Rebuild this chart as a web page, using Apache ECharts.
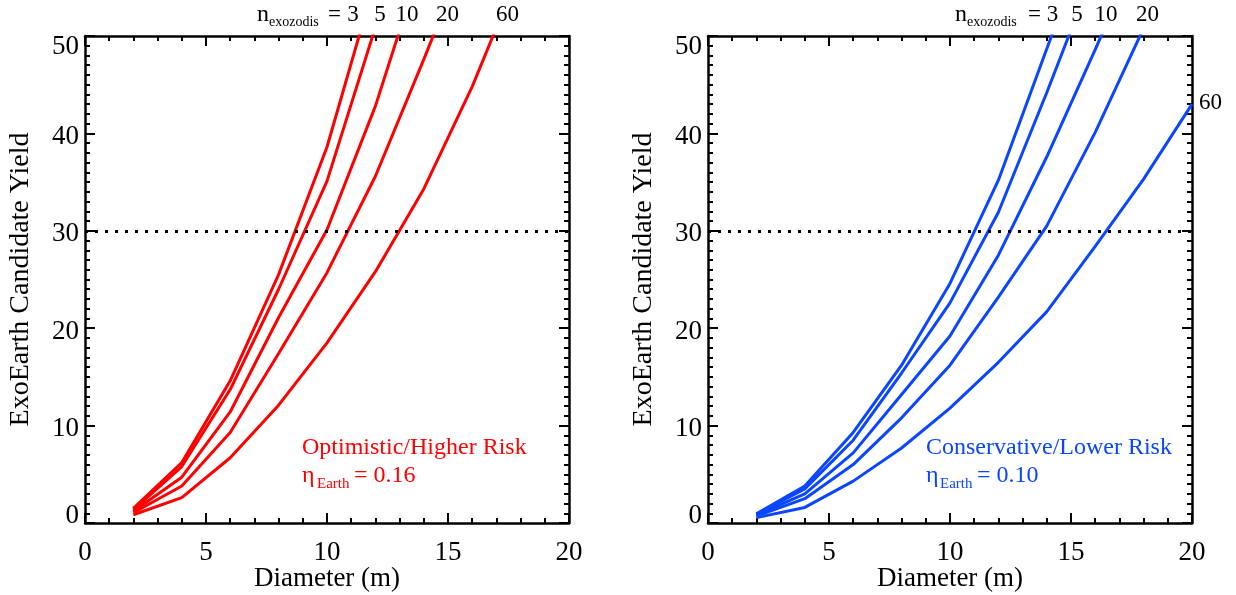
<!DOCTYPE html>
<html>
<head>
<meta charset="utf-8">
<script src="https://cdn.jsdelivr.net/npm/echarts@6/dist/echarts.min.js"></script>
<style>
html,body{margin:0;padding:0;background:#fff;}
#chart{width:1236px;height:595px;}
</style>
</head>
<body>
<div id="chart"></div>
<script>
// ---- data ----
const diameters = [2, 4, 6, 8, 10, 12, 14, 16, 18, 20];
const exozodiLevels = ['3', '5', '10', '20', '60'];

// Optimistic / Higher Risk (eta_Earth = 0.16)
const optN3  = [1.5, 6.2, 14.6, 25.5, 38.6, 55.8];
const optN5  = [1.35, 5.8, 13.7, 24.0, 35.1, 50.9];
const optN10 = [1.2, 4.7, 11.4, 21.1, 30.1, 42.8, 58.3];
const optN20 = [1.05, 3.8, 9.3, 17.4, 25.7, 35.6, 47.6, 60.0];
const optN60 = [0.85, 2.6, 6.7, 12.1, 18.5, 25.8, 34.3, 44.8, 56.9];

// Conservative / Lower Risk (eta_Earth = 0.10)
const conN3  = [0.95, 3.8, 9.3, 16.2, 24.6, 35.2, 48.7, 62.0];
const conN5  = [0.9, 3.5, 8.5, 15.4, 22.6, 31.9, 44.2, 57.0];
const conN10 = [0.8, 3.0, 7.2, 13.2, 19.2, 27.5, 37.6, 48.6, 60.0];
const conN20 = [0.7, 2.5, 6.0, 10.8, 16.2, 23.2, 30.5, 40.1, 50.8];
const conN60 = [0.55, 1.6, 4.3, 7.7, 11.8, 16.5, 21.7, 28.4, 35.3, 43.0];

const yieldGoal = 30;
const xTicks = [0, 5, 10, 15, 20];
const yTicks = [0, 10, 20, 30, 40, 50];

// ---- styling ----
const FONT = '"Liberation Serif", "DejaVu Serif", serif';
const RED = '#ff0000';
const BLUE = '#0a46ff';

const chart = echarts.init(document.getElementById('chart'), null, {renderer: 'canvas'});

function pairs(vals) { return vals.map((v, i) => [diameters[i], v]); }

const grids = [
  {left: 85, top: 36, width: 484, height: 487, outerBoundsMode: 'none', containLabel: false},
  {left: 708, top: 36, width: 484, height: 487, outerBoundsMode: 'none', containLabel: false}
];

const axisLineStyle = {color: '#000', width: 2.5};

function xAxes(gi) {
  const base = {
    type: 'value', gridIndex: gi, min: 0, max: 20, interval: 5,
    axisLine: {show: true, onZero: false, lineStyle: axisLineStyle},
    axisTick: {show: true, inside: true, length: 10, lineStyle: {color: '#000', width: 2}},
    minorTick: {show: true, splitNumber: 5, length: 5, lineStyle: {color: '#000', width: 2}},
    splitLine: {show: false}
  };
  return [
    Object.assign({}, base, {
      position: 'bottom',
      name: 'Diameter (m)', nameLocation: 'middle', nameGap: 42, nameMoveOverlap: false,
      nameTextStyle: {fontFamily: FONT, fontSize: 27, color: '#000'},
      axisLabel: {show: true, fontFamily: FONT, fontSize: 27, color: '#000', margin: 16,
                  formatter: v => xTicks.includes(v) ? String(v) : ''}
    }),
    Object.assign({}, base, {position: 'top', axisLabel: {show: false}})
  ];
}

function yAxes(gi) {
  const base = {
    type: 'value', gridIndex: gi, min: 0, max: 50, interval: 10,
    axisLine: {show: true, onZero: false, lineStyle: axisLineStyle},
    axisTick: {show: true, inside: true, length: 10, lineStyle: {color: '#000', width: 2}},
    minorTick: {show: true, splitNumber: 10, length: 5, lineStyle: {color: '#000', width: 2}},
    splitLine: {show: false}
  };
  return [
    Object.assign({}, base, {
      position: 'left',
      name: 'ExoEarth Candidate Yield', nameLocation: 'middle', nameGap: 50, nameMoveOverlap: false,
      nameTextStyle: {fontFamily: FONT, fontSize: 28, color: '#000'},
      axisLabel: {
        show: true, fontFamily: FONT, fontSize: 27, color: '#000', margin: 6,
        formatter: v => {
          if (!yTicks.includes(v)) return '';
          if (v === 0) return '{lo|0}';
          if (v === 50) return '{hi|50}';
          return '{mid|' + v + '}';
        },
        rich: {
          lo: {fontFamily: FONT, fontSize: 27, color: '#000', padding: [0, 0, 14, 0]},
          hi: {fontFamily: FONT, fontSize: 27, color: '#000', padding: [22, 0, 0, 0]},
          mid: {fontFamily: FONT, fontSize: 27, color: '#000', padding: [7, 0, 0, 0]}
        }
      }
    }),
    Object.assign({}, base, {position: 'right', axisLabel: {show: false}})
  ];
}

function lineSeries(vals, color, gi, withGoal) {
  const s = {
    type: 'line', xAxisIndex: gi * 2, yAxisIndex: gi * 2,
    data: pairs(vals), symbol: 'none', clip: true,
    lineStyle: {color: color, width: 3}, itemStyle: {color: color},
    silent: true, animation: false
  };
  if (withGoal) {
    s.markLine = {
      silent: true, symbol: 'none', animation: false,
      label: {show: false},
      lineStyle: {color: '#000', width: 3, type: [3, 7]},
      data: [{yAxis: yieldGoal}]
    };
  }
  return s;
}

const optSets = [optN3, optN5, optN10, optN20, optN60];
const conSets = [conN3, conN5, conN10, conN20, conN60];

const series = [];
optSets.forEach((v, i) => series.push(lineSeries(v, RED, 0, i === 0)));
conSets.forEach((v, i) => series.push(lineSeries(v, BLUE, 1, i === 0)));

function txt(x, y, text, size, color, align) {
  return {type: 'text', x: x, y: y, silent: true,
    style: {text: text, fontFamily: FONT, fontSize: size, fill: color || '#000',
            align: align || 'left', verticalAlign: 'middle'}};
}

// top "n_exozodis = ..." labels
const leftNumX = [353, 380, 407, 447.5, 507.5];
const rightNumX = [1052.5, 1077, 1106, 1147.5];
const graphics = [
  txt(257, 15, 'n', 24), txt(269, 22, 'exozodis', 14), txt(328, 15, '=', 23),
  txt(955, 15, 'n', 24), txt(967, 22, 'exozodis', 14), txt(1028, 15, '=', 23)
];
leftNumX.forEach((x, i) => graphics.push(txt(x, 15, exozodiLevels[i], 23, '#000', 'center')));
rightNumX.forEach((x, i) => graphics.push(txt(x, 15, exozodiLevels[i], 23, '#000', 'center')));
graphics.push(txt(1199, 103, exozodiLevels[4], 23));

// annotations
graphics.push(txt(302, 448, 'Optimistic/Higher Risk', 24, RED));
graphics.push(txt(302, 476, 'η', 24, RED));
graphics.push(txt(317, 484, 'Earth', 15, RED));
graphics.push(txt(354, 476, '= 0.16', 24, RED));
graphics.push(txt(926, 448, 'Conservative/Lower Risk', 24, BLUE));
graphics.push(txt(926, 476, 'η', 24, BLUE));
graphics.push(txt(940, 484, 'Earth', 15, BLUE));
graphics.push(txt(977, 476, '= 0.10', 24, BLUE));

chart.setOption({
  backgroundColor: '#fff',
  animation: false,
  grid: grids,
  xAxis: xAxes(0).concat(xAxes(1)),
  yAxis: yAxes(0).concat(yAxes(1)),
  series: series,
  graphic: graphics
});
</script>
</body>
</html>
